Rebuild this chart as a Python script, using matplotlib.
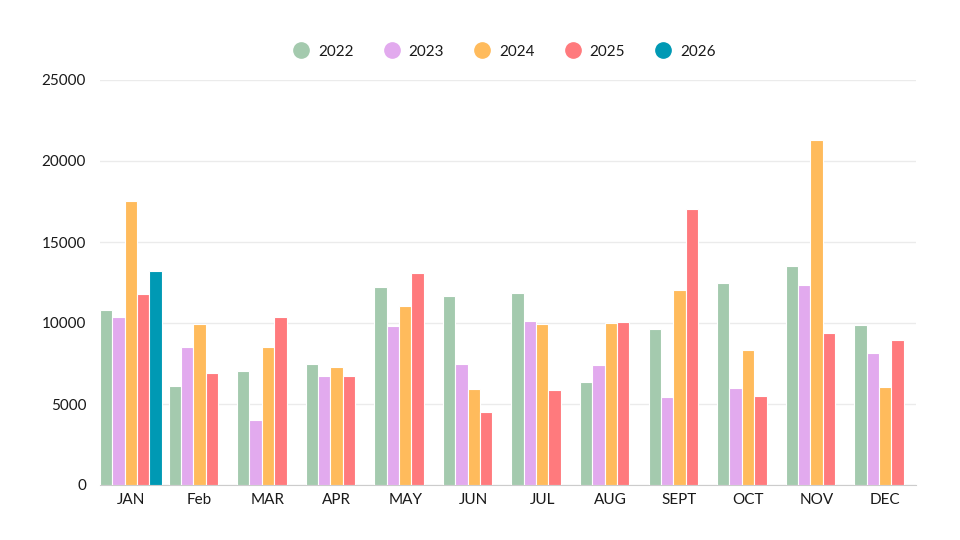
import matplotlib
matplotlib.use("Agg")
import matplotlib.pyplot as plt
from matplotlib.lines import Line2D
import numpy as np

plt.rcParams['font.family'] = ['Lato', 'DejaVu Sans']

months = ["JAN", "Feb", "MAR", "APR", "MAY", "JUN", "JUL", "AUG", "SEPT", "OCT", "NOV", "DEC"]
years = ["2022", "2023", "2024", "2025", "2026"]

v2022 = [10800, 6130, 7060, 7470, 12220, 11650, 11830, 6380, 9630, 12470, 13540, 9880]
v2023 = [10370, 8500, 4010, 6750, 9790, 7470, 10100, 7410, 5430, 5970, 12330, 8150]
v2024 = [17530, 9960, 8500, 7280, 11050, 5930, 9960, 9980, 12040, 8330, 21300, 6050]
v2025 = [11790, 6910, 10390, 6730, 13090, 4490, 5860, 10040, 17010, 5470, 9360, 8930]
v2026 = [13230, None, None, None, None, None, None, None, None, None, None, None]

series = [v2022, v2023, v2024, v2025, v2026]
colors = ["#A4CAAE", "#E2AAEE", "#FFBB5C", "#FF7A7D", "#0099B4"]

fig = plt.figure(figsize=(9.6, 5.4), dpi=100)
ax = fig.add_axes([100 / 960, 55 / 540, 816 / 960, 405 / 540])

x = np.arange(len(months))
group_w = 0.9
bw = group_w / len(series)
for i, (vals, col) in enumerate(zip(series, colors)):
    xs = [xi - group_w / 2 + bw * (i + 0.5) for xi, v in zip(x, vals) if v is not None]
    ys = [v for v in vals if v is not None]
    ax.bar(xs, ys, width=bw, color=col, edgecolor="white", linewidth=0.8, zorder=3)

ax.set_xlim(-0.45, len(months) - 0.55)
ax.set_ylim(0, 25000)
ax.set_yticks(range(0, 25001, 5000))
ax.set_xticks(x)
ax.set_xticklabels(months)
ax.grid(axis="y", color="#ebebeb", linewidth=1, zorder=0)
for s in ["top", "right", "left"]:
    ax.spines[s].set_visible(False)
ax.spines["bottom"].set_color("#cccccc")
ax.tick_params(axis="both", length=0, labelsize=11, colors="#1a1a1a")
ax.tick_params(axis="y", pad=10)
ax.tick_params(axis="x", pad=6)

handles = [Line2D([], [], marker="o", linestyle="none", markersize=11,
                  markerfacecolor=c, markeredgecolor=c) for c in colors]
ax.legend(handles, years, loc="center", bbox_to_anchor=(0.496, 1.07), ncol=5,
          frameon=False, fontsize=11, handlelength=1.0, handletextpad=0.6,
          columnspacing=2.0, labelcolor="#1a1a1a")

fig.savefig("out.png", dpi=100)
